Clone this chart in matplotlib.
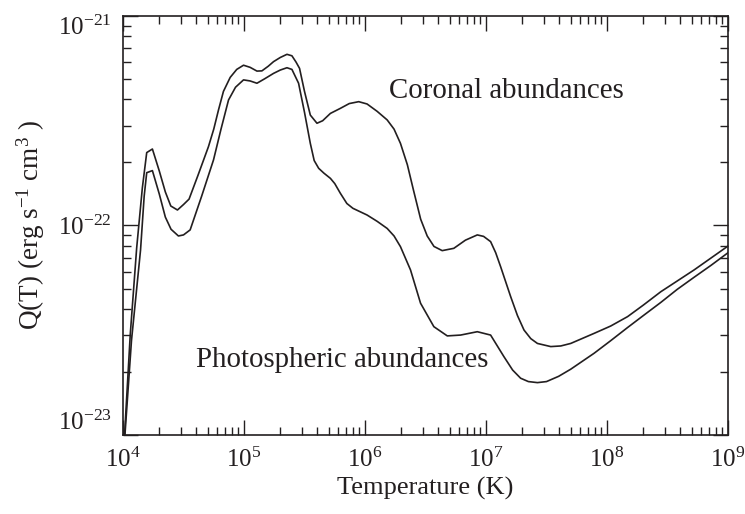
import matplotlib
matplotlib.use('Agg')
import matplotlib.pyplot as plt
import numpy as np
from matplotlib.ticker import LogLocator, NullFormatter

# log10 T (K) and log10 Q(T)
cor_logT = [4.008, 4.06, 4.113, 4.16, 4.196, 4.243, 4.30, 4.35, 4.395, 4.45, 4.50, 4.546,
            4.62, 4.706, 4.75, 4.789, 4.83, 4.886, 4.94, 4.996, 5.05, 5.107, 5.148, 5.20,
            5.244, 5.30, 5.355, 5.396, 5.43, 5.459, 5.50, 5.548, 5.603, 5.65, 5.714, 5.796,
            5.87, 5.948, 6.017, 6.10, 6.183, 6.24, 6.293, 6.35, 6.40, 6.46, 6.514, 6.57,
            6.638, 6.734, 6.83, 6.928, 6.98, 7.038, 7.08, 7.121, 7.204, 7.26, 7.314, 7.37,
            7.425, 7.535, 7.618, 7.70, 7.893, 8.03, 8.17, 8.30, 8.445, 8.58, 8.72, 8.86, 9.0]
cor_logQ = [-23.05, -22.52, -22.107, -21.82, -21.652, -21.635, -21.74, -21.84, -21.907, -21.926, -21.90, -21.874,
            -21.76, -21.624, -21.54, -21.449, -21.36, -21.293, -21.255, -21.235, -21.245, -21.263, -21.262, -21.24,
            -21.218, -21.198, -21.183, -21.19, -21.22, -21.25, -21.36, -21.473, -21.512, -21.50, -21.465, -21.441,
            -21.418, -21.409, -21.42, -21.455, -21.496, -21.54, -21.608, -21.71, -21.83, -21.97, -22.05, -22.10,
            -22.12, -22.109, -22.07, -22.045, -22.052, -22.077, -22.13, -22.197, -22.34, -22.43, -22.499, -22.54,
            -22.563, -22.578, -22.575, -22.563, -22.515, -22.48, -22.435, -22.38, -22.316, -22.265, -22.212, -22.155, -22.098]

pho_logT = [4.01, 4.07, 4.145, 4.175, 4.196, 4.243, 4.30, 4.35, 4.397, 4.458, 4.50, 4.555,
            4.65, 4.748, 4.81, 4.872, 4.93, 4.996, 5.05, 5.107, 5.17, 5.244, 5.30, 5.355,
            5.396, 5.451, 5.50, 5.548, 5.58, 5.617, 5.66, 5.714, 5.75, 5.796, 5.85, 5.90,
            6.017, 6.10, 6.183, 6.24, 6.293, 6.376, 6.459, 6.569, 6.68, 6.79, 6.928, 7.038,
            7.148, 7.22, 7.286, 7.35, 7.425, 7.50, 7.60, 7.70, 7.893, 8.03, 8.17, 8.30,
            8.445, 8.58, 8.72, 8.86, 9.0]
pho_logQ = [-23.05, -22.55, -22.117, -21.86, -21.748, -21.738, -21.85, -21.96, -22.018, -22.05, -22.045, -22.021,
            -21.86, -21.687, -21.54, -21.401, -21.34, -21.305, -21.31, -21.321, -21.30, -21.274, -21.258, -21.247,
            -21.255, -21.321, -21.46, -21.608, -21.69, -21.727, -21.75, -21.775, -21.80, -21.846, -21.895, -21.918,
            -21.95, -21.98, -22.014, -22.05, -22.101, -22.212, -22.371, -22.483, -22.527, -22.523, -22.507, -22.523,
            -22.626, -22.69, -22.729, -22.745, -22.75, -22.745, -22.72, -22.686, -22.61, -22.55, -22.487, -22.43,
            -22.367, -22.305, -22.247, -22.19, -22.13]

x_exps = [4, 5, 6, 7, 8, 9]
y_exps = [-23, -22, -21]

plt.rcParams['font.family'] = 'Liberation Serif'
plt.rcParams['mathtext.fontset'] = 'custom'
plt.rcParams['mathtext.rm'] = 'Liberation Serif'
plt.rcParams['mathtext.it'] = 'Liberation Serif:italic'

fig = plt.figure(figsize=(7.45, 5.14), dpi=100)
ax = fig.add_axes([0.1651, 0.1537, 0.8121, 0.8152])

ink = '#231f20'
ax.plot(10 ** np.array(cor_logT), 10 ** np.array(cor_logQ), color=ink, lw=1.2)
ax.plot(10 ** np.array(pho_logT), 10 ** np.array(pho_logQ), color=ink, lw=1.2)

ax.set_xscale('log')
ax.set_yscale('log')
ax.set_xlim(1e4, 1e9)
ax.set_ylim(1e-23, 1e-21)

ax.set_xticks([10.0 ** e for e in x_exps])
ax.set_xticklabels([r'$10^{%d}$' % e for e in x_exps])
ax.set_yticks([10.0 ** e for e in y_exps])
ax.set_yticklabels([r'$10^{%d}$' % e for e in y_exps])
ax.xaxis.set_minor_locator(LogLocator(base=10, subs=np.arange(2, 10), numticks=20))
ax.yaxis.set_minor_locator(LogLocator(base=10, subs=np.arange(2, 10), numticks=20))
ax.xaxis.set_minor_formatter(NullFormatter())
ax.yaxis.set_minor_formatter(NullFormatter())

ax.tick_params(which='both', direction='in', top=True, right=True, colors=ink, labelsize=18)
ax.tick_params(which='major', length=11, width=1.0)
ax.tick_params(axis='x', which='major', pad=9)
ax.tick_params(axis='y', which='major', pad=8)
ax.tick_params(which='minor', length=6, width=1.0)
ylabs = ax.get_yticklabels()
ylabs[0].set_va('bottom')
ylabs[-1].set_va('top')
for s in ax.spines.values():
    s.set_color(ink)
    s.set_linewidth(1.2)

ax.set_xlabel('Temperature (K)', fontsize=19, color=ink, labelpad=4)
ax.set_ylabel(r'Q(T) (erg s$^{-1}$ cm$^{3}$ )', fontsize=19.5, color=ink, labelpad=8)

ax.text(10 ** 6.2, 10 ** -21.357, 'Coronal abundances', fontsize=20.8, color=ink, va='center', ha='left')
ax.text(10 ** 4.6, 10 ** -22.64, 'Photospheric abundances', fontsize=20.8, color=ink, va='center', ha='left')

fig.savefig('out.png', dpi=100)
